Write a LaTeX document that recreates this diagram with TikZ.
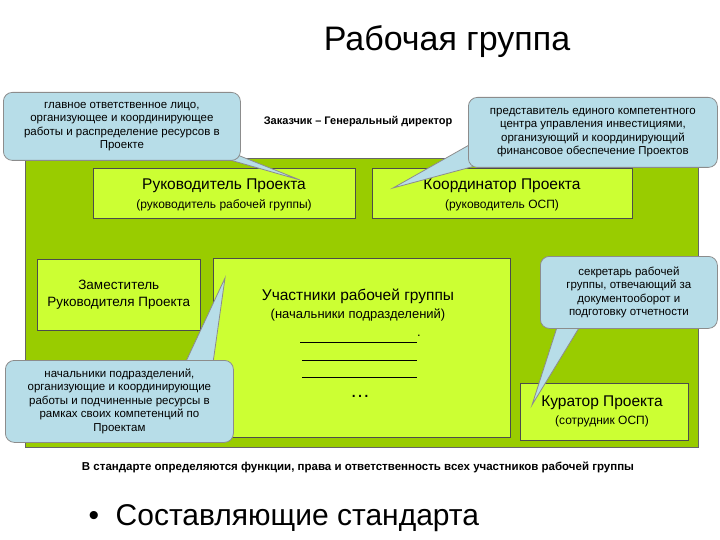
\documentclass[tikz,border=0pt]{standalone}
\usepackage{fontspec}
\setmainfont{Liberation Sans}
\begin{document}
\begin{tikzpicture}[x=1pt,y=-1pt,
  box/.style={draw=black!70,fill=boxg,line width=0.6pt,align=center,inner sep=0pt},
  call/.style={draw=black!45,fill=callb,line width=0.8pt,rounded corners=9pt,align=center,inner sep=0pt,font=\fontsize{11.5}{13.5}\selectfont},
  ptr/.style={draw=black!45,fill=callb,line width=0.8pt,line join=miter}]
\definecolor{bigg}{RGB}{153,204,0}
\definecolor{boxg}{RGB}{204,255,51}
\definecolor{callb}{RGB}{183,221,232}
\useasboundingbox (0,0) rectangle (720,540);
\node[font=\fontsize{34}{38}\selectfont] (title) at (447,42) {Рабочая группа};
\node[draw=black!60,fill=bigg,minimum width=673pt,minimum height=289pt,anchor=north west,inner sep=0pt] (big) at (25,158) {};
\node[box,minimum width=262pt,minimum height=50pt,anchor=north west] (ruk) at (93,168) {};
\node[font=\fontsize{15.5}{17}\selectfont] (ruk1) at (224,186) {Руководитель Проекта};
\node[font=\fontsize{12}{13}\selectfont] (ruk2) at (224,205) {(руководитель рабочей группы)};
\node[box,minimum width=260pt,minimum height=50pt,anchor=north west] (koo) at (372,168) {};
\node[font=\fontsize{15.5}{17}\selectfont] (koo1) at (502,186) {Координатор Проекта};
\node[font=\fontsize{12}{13}\selectfont] (koo2) at (502,205) {(руководитель ОСП)};
\node[box,minimum width=163pt,minimum height=71pt,anchor=north west,font=\fontsize{13.5}{17}\selectfont] (zam) at (37,259) {Заместитель\\Руководителя Проекта};
\node[box,minimum width=297pt,minimum height=179pt,anchor=north west] (uch) at (213,258) {};
\node[font=\fontsize{15.5}{17}\selectfont] (uch1) at (358,296) {Участники рабочей группы};
\node[font=\fontsize{13}{14}\selectfont] (uch2) at (358,315) {(начальники подразделений)};
\coordinate (l1a) at (300,342); \coordinate (l1b) at (417,342);
\coordinate (l2a) at (302,360); \coordinate (l2b) at (417,360);
\coordinate (l3a) at (302,377); \coordinate (l3b) at (417,377);
\draw[line width=0.6pt] (l1a) -- (l1b) (l2a) -- (l2b) (l3a) -- (l3b);
\node[font=\fontsize{13}{10}\selectfont] (dot) at (419,336) {.};
\node[font=\fontsize{20}{20}\selectfont] (dots) at (360,396) {\dots};
\node[box,minimum width=168pt,minimum height=57pt,anchor=north west] (kur) at (520,383) {};
\node[font=\fontsize{15.5}{17}\selectfont] (kur1) at (602,403) {Куратор Проекта};
\node[font=\fontsize{12}{13}\selectfont] (kur2) at (602,421) {(сотрудник ОСП)};
% callouts
\coordinate (p1) at (300,180);
\draw[ptr] (195,150) -- (p1) -- (225,150) -- cycle;
\node[call,minimum width=237pt,minimum height=68pt,anchor=north west] (c1) at (3,92) {главное ответственное лицо,\\организующее и координирующее\\работы и распределение ресурсов в\\Проекте};
\coordinate (p2) at (393,188);
\draw[ptr] (478,140) -- (p2) -- (505,158) -- cycle;
\node[call,minimum width=249pt,minimum height=70pt,anchor=north west] (c2) at (468,97) {представитель единого компетентного\\центра управления инвестициями,\\организующий и координирующий\\финансовое обеспечение Проектов};
\coordinate (p3) at (225,278);
\draw[ptr] (182,370) -- (p3) -- (212,370) -- cycle;
\node[call,minimum width=228pt,minimum height=82pt,anchor=north west] (c3) at (5,360) {начальники подразделений,\\организующие и координирующие\\работы и подчиненные ресурсы в\\рамках своих компетенций по\\Проектам};
\coordinate (p4) at (532,405);
\draw[ptr] (560,318) -- (p4) -- (585,318) -- cycle;
\node[call,minimum width=177pt,minimum height=72pt,anchor=north west] (c4) at (540,256) {секретарь рабочей\\группы, отвечающий за\\документооборот и\\подготовку отчетности};
\node[font=\bfseries\fontsize{11}{12}\selectfont] (zak) at (358,122) {Заказчик – Генеральный директор};
\node[font=\bfseries\fontsize{11.5}{12}\selectfont] (std) at (358,467) {В стандарте определяются функции, права и ответственность всех участников рабочей группы};
\node[font=\fontsize{30}{32}\selectfont,anchor=west] (bul) at (85,518) {•\ \ Составляющие стандарта};
\end{tikzpicture}
\end{document}
